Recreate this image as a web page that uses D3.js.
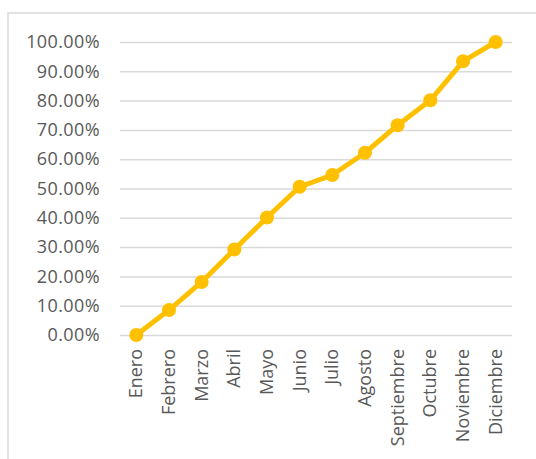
<!DOCTYPE html>
<html>
<head>
<meta charset="utf-8">
<script src="https://cdn.jsdelivr.net/npm/d3@7"></script>
<style>
  html, body { margin: 0; padding: 0; background: #fff; }
  svg { display: block; }
</style>
</head>
<body>
<svg id="chart" width="536" height="459"></svg>
<script>
// Monthly cumulative progress
const months = ["Enero", "Febrero", "Marzo", "Abril", "Mayo", "Junio", "Julio",
  "Agosto", "Septiembre", "Octubre", "Noviembre", "Diciembre"];
const values = [0, 8.5, 18.1, 29.2, 40.1, 50.6, 54.6, 62.2, 71.6, 80.1, 93.4, 100];
const yTicks = [0, 10, 20, 30, 40, 50, 60, 70, 80, 90, 100];

const svg = d3.select("#chart");
const font = "'Open Sans', 'Noto Sans', sans-serif";
const gold = "#FFC000";

// chart frame
svg.append("path")
  .attr("d", "M8,459 V13 H536")
  .attr("fill", "none")
  .attr("stroke", "#d9d9d9")
  .attr("stroke-width", 1.5);

const x = d3.scaleBand().domain(months).range([120, 512]);
const y = d3.scaleLinear().domain([0, 100]).range([335, 42]);

// gridlines + y labels
const yAxis = d3.axisLeft(y).tickValues(yTicks)
  .tickSize(-(512 - 120))
  .tickPadding(20)
  .tickFormat(d => d.toFixed(2) + "%");

const gy = svg.append("g").attr("transform", "translate(120,0)").call(yAxis);
gy.select(".domain").remove();
gy.selectAll(".tick line").attr("stroke", "#d9d9d9").attr("stroke-width", 1.5);
gy.selectAll(".tick text")
  .attr("fill", "#595959")
  .style("font-family", font)
  .style("font-size", "18px")
  .style("letter-spacing", "0.4px");

// x labels, rotated
const xAxis = d3.axisBottom(x).tickSize(0).tickPadding(0);
const gx = svg.append("g").attr("transform", "translate(0,335)").call(xAxis);
gx.select(".domain").remove();
gx.selectAll(".tick text")
  .attr("fill", "#595959")
  .style("font-family", font)
  .style("font-size", "18px")
  .attr("text-anchor", "end")
  .attr("dy", null)
  .attr("y", 0)
  .attr("transform", "translate(6,14) rotate(-90)");

const cx = d => x(d) + x.bandwidth() / 2;

// line
const line = d3.line()
  .x((d, i) => cx(months[i]))
  .y(d => y(d));

svg.append("path")
  .datum(values)
  .attr("d", line)
  .attr("fill", "none")
  .attr("stroke", gold)
  .attr("stroke-width", 5)
  .attr("stroke-linejoin", "round");

svg.append("g").selectAll("circle")
  .data(values)
  .join("circle")
  .attr("cx", (d, i) => cx(months[i]))
  .attr("cy", d => y(d))
  .attr("r", 7)
  .attr("fill", gold);
</script>
</body>
</html>
